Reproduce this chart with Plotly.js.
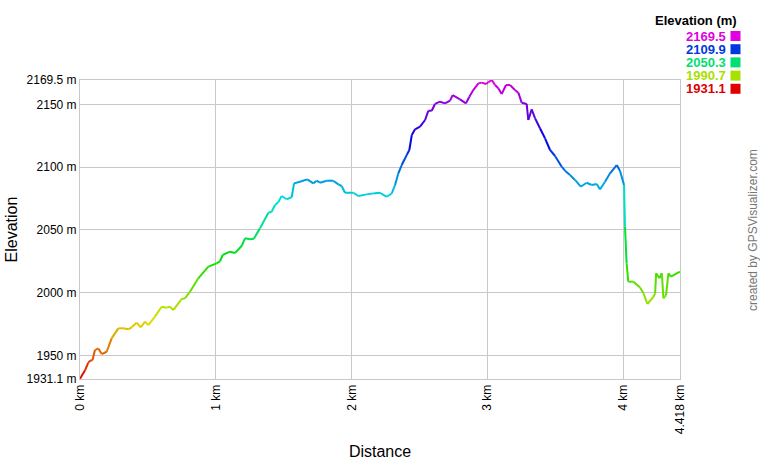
<!DOCTYPE html>
<html>
<head>
<meta charset="utf-8">
<script src="https://cdn.plot.ly/plotly-3.0.1.min.js"></script>
<style>
  html, body { margin: 0; padding: 0; background: #fff; }
  #plot { width: 760px; height: 460px; }
</style>
</head>
<body>
<div id="plot"></div>
<script>
// track profile: distance (km) and elevation (m)
const distanceKm = [
  0.000, 0.037, 0.060, 0.074, 0.092, 0.110, 0.135, 0.160, 0.196, 0.233,
  0.282, 0.319, 0.356, 0.380, 0.417, 0.447, 0.479, 0.503, 0.552, 0.601,
  0.638, 0.663, 0.687, 0.749, 0.773, 0.810, 0.871, 0.945, 1.006, 1.031,
  1.051, 1.105, 1.141, 1.190, 1.215, 1.252, 1.280, 1.325, 1.387, 1.411,
  1.436, 1.460, 1.485, 1.522, 1.559, 1.576, 1.620, 1.674, 1.718, 1.743,
  1.767, 1.817, 1.865, 1.902, 1.927, 1.951, 2.013, 2.049, 2.111, 2.160,
  2.209, 2.258, 2.295, 2.320, 2.344, 2.369, 2.406, 2.425, 2.443, 2.467,
  2.504, 2.541, 2.565, 2.590, 2.614, 2.651, 2.688, 2.725, 2.744, 2.798,
  2.842, 2.867, 2.896, 2.933, 2.958, 2.990, 3.007, 3.032, 3.056, 3.080,
  3.105, 3.137, 3.166, 3.203, 3.228, 3.252, 3.289, 3.301, 3.326, 3.351,
  3.387, 3.424, 3.461, 3.498, 3.547, 3.571, 3.608, 3.645, 3.687, 3.731,
  3.768, 3.805, 3.829, 3.866, 3.903, 3.952, 3.976, 4.006, 4.013, 4.025,
  4.037, 4.075, 4.124, 4.149, 4.178, 4.223, 4.235, 4.242, 4.267, 4.284,
  4.296, 4.315, 4.333, 4.350, 4.418
];
const elevationM = [
  1931.3, 1938.0, 1944.0, 1945.7, 1946.0, 1954.2, 1955.5, 1951.0, 1952.8, 1963.5,
  1971.5, 1971.5, 1970.7, 1972.3, 1976.0, 1972.3, 1976.8, 1974.1, 1980.8, 1988.7,
  1988.0, 1988.7, 1986.1, 1994.9, 1995.4, 2000.7, 2011.4, 2020.7, 2023.3, 2025.0,
  2030.0, 2032.6, 2031.5, 2037.1, 2043.3, 2042.5, 2043.0, 2051.2, 2063.7, 2064.5,
  2069.8, 2072.0, 2077.0, 2074.4, 2076.0, 2087.1, 2088.4, 2090.3, 2087.1, 2089.2,
  2087.6, 2089.2, 2089.2, 2086.3, 2085.0, 2079.6, 2079.6, 2077.0, 2078.3, 2079.1,
  2079.6, 2076.4, 2079.0, 2085.8, 2095.1, 2101.7, 2109.7, 2113.7, 2125.6, 2130.2,
  2132.3, 2137.6, 2145.0, 2145.0, 2150.4, 2152.2, 2150.9, 2153.0, 2157.5, 2154.1,
  2150.9, 2156.2, 2161.5, 2166.8, 2167.4, 2166.3, 2167.7, 2169.5, 2165.5, 2162.9,
  2158.3, 2165.5, 2165.5, 2161.5, 2159.4, 2151.4, 2150.4, 2137.6, 2146.1, 2138.9,
  2131.0, 2123.0, 2113.7, 2108.9, 2100.4, 2097.2, 2093.7, 2089.8, 2084.4, 2087.6,
  2085.8, 2086.6, 2082.3, 2088.4, 2095.1, 2101.7, 2097.2, 2085.8, 2052.5, 2023.3,
  2008.7, 2008.7, 2004.1, 1999.4, 1990.9, 1996.7, 1999.4, 2015.4, 2011.4, 2015.4,
  1995.4, 1998.0, 2015.4, 2012.7, 2016.7
];

const elevMin = 1931.1;
const elevMax = 2169.5;
const distMax = 4.418;

const yTickVals = [1931.1, 1950, 2000, 2050, 2100, 2150, 2169.5];
const xTickVals = [0, 1, 2, 3, 4, 4.418];

// plot box in pixels (used only for placing the legend outside it)
const box = { l: 80, r: 80, t: 80, b: 81, w: 760, h: 460 };
const plotW = box.w - box.l - box.r;
const plotH = box.h - box.t - box.b;

function hsv(h, s, v) {
  const f = n => {
    const k = (n + h / 60) % 6;
    return v - v * s * Math.max(0, Math.min(k, 4 - k, 1));
  };
  const c = n => Math.round(f(n) * 255);
  return `rgb(${c(5)},${c(3)},${c(1)})`;
}

// red at the lowest point, magenta at the highest
function elevColor(e) {
  const t = Math.max(0, Math.min(1, (e - elevMin) / (elevMax - elevMin)));
  return hsv(300 * t, 1, 0.88);
}

const traces = [];
for (let i = 0; i < distanceKm.length - 1; i++) {
  const mid = (elevationM[i] + elevationM[i + 1]) / 2;
  traces.push({
    x: [distanceKm[i], distanceKm[i + 1]],
    y: [elevationM[i], elevationM[i + 1]],
    mode: "lines",
    line: { color: elevColor(mid), width: 2 },
    hoverinfo: "skip",
    showlegend: false
  });
}

function px2x(px) { return (px - box.l) / plotW; }
function px2y(py) { return (box.h - box.b - py) / plotH; }

// colour key in the top right corner
const legendValues = [4, 3, 2, 1, 0].map(k =>
  Math.round((elevMin + k * (elevMax - elevMin) / 4) * 10) / 10
);

const annotations = [
  {
    text: "<b>Elevation (m)</b>",
    xref: "paper", yref: "paper",
    x: px2x(739), y: px2y(21), xanchor: "right", yanchor: "middle",
    showarrow: false,
    font: { family: "Liberation Sans, Arial", size: 13, color: "#000" }
  },
  {
    text: "created by GPSVisualizer.com",
    xref: "paper", yref: "paper",
    x: px2x(753), y: px2y(230), xanchor: "center", yanchor: "middle",
    textangle: -90,
    showarrow: false,
    font: { family: "Liberation Sans, Arial", size: 12, color: "#777" }
  }
];
const shapes = [];

legendValues.forEach((v, i) => {
  const cy = 36 + i * 13.2;
  const col = elevColor(v);
  annotations.push({
    text: "<b>" + v.toFixed(1) + "</b>",
    xref: "paper", yref: "paper",
    x: px2x(727), y: px2y(cy), xanchor: "right", yanchor: "middle",
    borderpad: 0,
    showarrow: false,
    font: { family: "Liberation Sans, Arial", size: 13, color: col }
  });
  shapes.push({
    type: "rect",
    xref: "paper", yref: "paper",
    x0: px2x(730.5), x1: px2x(740.5),
    y0: px2y(cy - 5), y1: px2y(cy + 5),
    fillcolor: col,
    line: { width: 0 }
  });
});

const axisFont = { family: "Liberation Sans, Arial", size: 12, color: "#000" };

const layout = {
  width: 760,
  height: 460,
  margin: { l: box.l, r: box.r, t: box.t, b: box.b, pad: 0 },
  paper_bgcolor: "#fff",
  plot_bgcolor: "#fff",
  showlegend: false,
  hovermode: false,
  xaxis: {
    range: [0, distMax],
    tickvals: xTickVals,
    ticktext: xTickVals.map(v => v + " km"),
    tickangle: -90,
    tickfont: axisFont,
    showgrid: true,
    gridcolor: "#c8c8c8",
    gridwidth: 1,
    zeroline: false,
    showline: true,
    linecolor: "#c8c8c8",
    mirror: true,
    ticks: "",
    fixedrange: true,
    title: {
      text: "Distance",
      font: { family: "Liberation Sans, Arial", size: 16, color: "#000" },
      standoff: 12
    }
  },
  yaxis: {
    range: [elevMin, elevMax],
    tickvals: yTickVals,
    ticktext: yTickVals.map(v => v + " m"),
    tickfont: axisFont,
    showgrid: true,
    gridcolor: "#c8c8c8",
    gridwidth: 1,
    zeroline: false,
    showline: true,
    linecolor: "#c8c8c8",
    mirror: true,
    ticks: "",
    fixedrange: true,
    title: {
      text: "Elevation",
      font: { family: "Liberation Sans, Arial", size: 16, color: "#000" },
      standoff: 4
    }
  },
  annotations: annotations,
  shapes: shapes
};

Plotly.newPlot("plot", traces, layout, { displayModeBar: false, staticPlot: true });
</script>
</body>
</html>
